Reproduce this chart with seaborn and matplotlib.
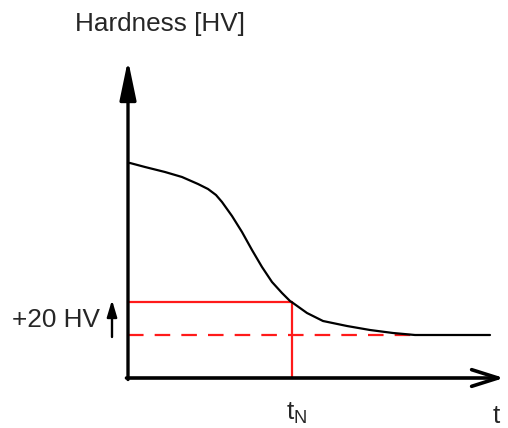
import matplotlib
matplotlib.use("Agg")
import matplotlib.pyplot as plt
import seaborn as sns
import pandas as pd

# Hardness curve (arbitrary units: time vs hardness)
time = [0, 2, 17, 37, 54, 70, 80, 88, 94, 104, 114, 124, 134, 144, 154, 162,
        165, 179, 195, 219, 242, 265, 287, 362]
hardness = [215, 215, 211, 206, 201, 194, 189, 183, 176, 162, 146, 128, 111,
            96, 85, 77, 75, 65, 57, 52, 48, 45, 43, 43]

base_level = 43        # final hardness
limit_level = 76       # final hardness + 20 HV
t_n = 164              # time where curve crosses the limit
dash_end = 287
x_max = 372
y_max = 318

df = pd.DataFrame({'t': time, 'HV': hardness})

sns.set_style("white")
plt.rcParams['font.family'] = ['Liberation Sans', 'DejaVu Sans']

fig = plt.figure(figsize=(5.08, 4.28), dpi=100)
ax = fig.add_axes([0, 0, 1, 1])
ax.axis('off')

red = '#ff1a1a'
# red reference lines
ax.plot([0, t_n], [limit_level, limit_level], color=red, lw=1.6, zorder=2)
ax.plot([t_n, t_n], [0, limit_level], color=red, lw=1.6, zorder=2)
ax.plot([0, dash_end], [base_level, base_level], color=red, lw=1.6,
        dashes=(7, 5), zorder=2)

sns.lineplot(data=df, x='t', y='HV', ax=ax, color='black', lw=1.6, zorder=3)
ax.set_xlim(-128, 380)
ax.set_ylim(-50, 378)

# axes with arrows
ax.annotate('', xy=(0, y_max), xytext=(0, -1.5),
            arrowprops=dict(arrowstyle='-|>,head_length=2.4,head_width=0.5',
                            color='black', lw=2.4, shrinkA=0, shrinkB=0))
ax.annotate('', xy=(x_max + 4, 0), xytext=(-1.5, 0),
            arrowprops=dict(arrowstyle='->,head_length=1.9,head_width=0.6',
                            color='black', lw=2.6, shrinkA=0, shrinkB=0))

# +20 HV arrow
ax.annotate('', xy=(-16, limit_level + 2), xytext=(-16, base_level - 2),
            arrowprops=dict(arrowstyle='-|>,head_length=1.0,head_width=0.3',
                            color='black', lw=1.7, shrinkA=0, shrinkB=0))

fs = 18.8
ax.text(32, 354, 'Hardness [HV]', fontsize=fs, ha='center', va='center')
ax.text(-28, 58, '+20 HV', fontsize=fs, ha='right', va='center')
ax.text(t_n + 5, -35, r't$_\mathregular{N}$', fontsize=fs, ha='center', va='center')
ax.text(368, -38, 't', fontsize=fs, ha='center', va='center')

fig.savefig('out.png', dpi=100, facecolor='white')
